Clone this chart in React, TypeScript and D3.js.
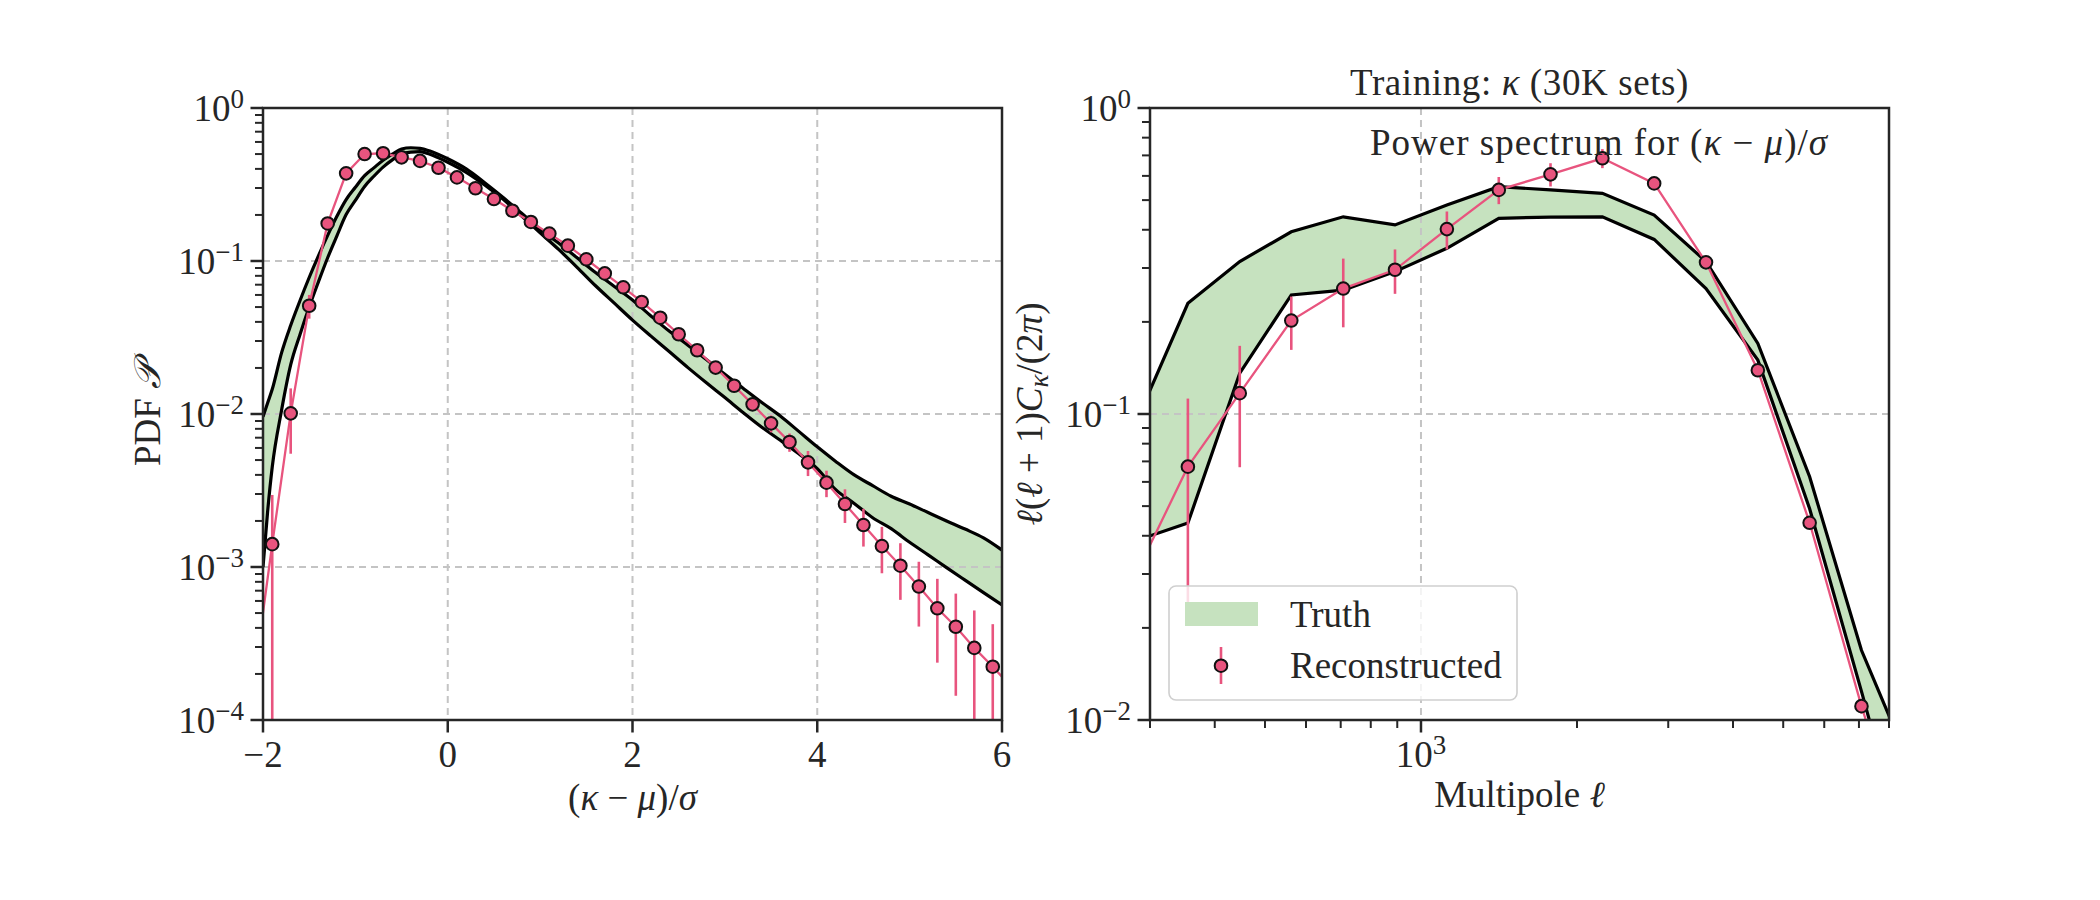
import * as d3 from "d3";

// ---- left panel: one-point PDF of (kappa - mu)/sigma ----
const pdfX = [
  -2.1, -1.9, -1.7, -1.5, -1.3, -1.1, -0.9, -0.7, -0.5, -0.3, -0.1, 0.1, 0.3,
  0.5, 0.7, 0.9, 1.1, 1.3, 1.5, 1.7, 1.9, 2.1, 2.3, 2.5, 2.7, 2.9, 3.1, 3.3,
  3.5, 3.7, 3.9, 4.1, 4.3, 4.5, 4.7, 4.9, 5.1, 5.3, 5.5, 5.7, 5.9, 6.1,
];
const pdfRecon = [
  0.00018, 0.00141, 0.0101, 0.051, 0.176, 0.374, 0.5, 0.506, 0.476, 0.451,
  0.407, 0.352, 0.299, 0.254, 0.213, 0.18, 0.151, 0.126, 0.1026, 0.083, 0.0673,
  0.054, 0.0426, 0.0332, 0.0261, 0.0201, 0.0153, 0.01156, 0.00869, 0.00656,
  0.00483, 0.00356, 0.00258, 0.00188, 0.00137, 0.00102, 0.000745, 0.000537,
  0.000407, 0.000296, 0.000223, 0.000165,
];
const pdfErr = [
  0.0002, 0.00154, 0.0046, 0.009, 0.012, 0.015, 0.012, 0.01, 0.01, 0.009, 0.008,
  0.007, 0.006, 0.006, 0.005, 0.005, 0.004, 0.004, 0.0035, 0.003, 0.0027,
  0.0023, 0.002, 0.0017, 0.0015, 0.0013, 0.0008, 0.0009, 0.0011, 0.0009,
  0.0009, 0.0007, 0.00064, 0.00052, 0.00046, 0.00041, 0.000337, 0.0003,
  0.000263, 0.000224, 0.0002, 0.00018,
];

const truthX = [
  -2.0, -1.95, -1.9, -1.8, -1.7, -1.6, -1.5, -1.4, -1.3, -1.2, -1.1, -1.0, -0.9,
  -0.8, -0.7, -0.6, -0.5, -0.4, -0.3, -0.2, -0.1, 0.0, 0.2, 0.4, 0.6, 0.8, 1.0,
  1.2, 1.4, 1.6, 1.8, 2.0, 2.2, 2.4, 2.6, 2.8, 3.0, 3.2, 3.4, 3.6, 3.8, 4.0,
  4.2, 4.4, 4.6, 4.8, 5.0, 5.2, 5.4, 5.6, 5.8, 6.0,
];
const truthHigh = [
  0.0096, 0.0118, 0.0145, 0.025, 0.038, 0.055, 0.078, 0.108, 0.147, 0.196,
  0.252, 0.303, 0.361, 0.406, 0.456, 0.499, 0.54, 0.55, 0.545, 0.525, 0.497,
  0.466, 0.4, 0.325, 0.26, 0.205, 0.161, 0.131, 0.105, 0.084, 0.0684, 0.0556,
  0.0437, 0.0347, 0.0282, 0.0227, 0.0182, 0.0147, 0.0119, 0.0097, 0.0077,
  0.0061, 0.0049, 0.004, 0.0034, 0.0029, 0.00258, 0.00227, 0.002, 0.00177,
  0.00155, 0.00129,
];
const truthLow = [
  0.001, 0.0023, 0.0045, 0.0105, 0.021, 0.033, 0.05, 0.073, 0.105, 0.146,
  0.201, 0.249, 0.307, 0.358, 0.411, 0.458, 0.5, 0.515, 0.518, 0.5, 0.472,
  0.442, 0.38, 0.314, 0.253, 0.197, 0.153, 0.119, 0.091, 0.0689, 0.0532,
  0.0411, 0.0323, 0.0255, 0.0201, 0.016, 0.0128, 0.0102, 0.0082, 0.00673,
  0.0055, 0.0044, 0.0032, 0.0026, 0.0021, 0.00178, 0.00145, 0.0012, 0.00099,
  0.00082, 0.00068, 0.000565,
];

// ---- right panel: power spectrum ----
const psL = [
  282, 355, 447, 562, 708, 891, 1122, 1413, 1778, 2239, 2818, 3548, 4467, 5623,
  7079, 8913,
];
const psRecon = [
  0.03, 0.0673, 0.117, 0.202, 0.257, 0.296, 0.402, 0.54, 0.607, 0.685, 0.567,
  0.313, 0.139, 0.0441, 0.0111, 0.0032,
];
const psErr = [
  0.02, 0.045, 0.05, 0.04, 0.065, 0.049, 0.057, 0.055, 0.053, 0.049, 0.02,
  0.012, 0.006, 0.002, 0.0006, 0.0002,
];
const psHigh = [
  0.094, 0.23, 0.315, 0.394, 0.441, 0.415, 0.482, 0.553, 0.54, 0.526, 0.447,
  0.315, 0.17, 0.0624, 0.0169, 0.0067,
];
const psLow = [
  0.0386, 0.044, 0.136, 0.245, 0.254, 0.292, 0.348, 0.436, 0.44, 0.441, 0.372,
  0.257, 0.15, 0.049, 0.0124, 0.003,
];

const leftXTicks = [-2, 0, 2, 4, 6];
const leftYDecades = [-4, -3, -2, -1, 0];
const rightYDecades = [-2, -1, 0];
const rightXMajor = [1000];
const rightXMinor = [300, 400, 500, 600, 700, 800, 900, 2000, 3000, 4000, 5000, 6000, 7000, 8000];

const FONT = "'Liberation Serif', 'DejaVu Serif', serif";
const RED = "#e8547e";
const GREEN = "#c6e2bf";
const AXIS = "#262626";
const GRID = "#c4c4c4";
const FS = 37;
const SUP = 27;

const L = { x0: 263, x1: 1002, y0: 108, y1: 720 };
const R = { x0: 1150, x1: 1889, y0: 108, y1: 720 };

function Pow10({ x, y, exp, anchor }: { x: number; y: number; exp: number; anchor: string }) {
  const s = exp < 0 ? "\u2212" + -exp : String(exp);
  return (
    <text x={x} y={y} textAnchor={anchor} fontSize={FS} fill={AXIS}>
      10
      <tspan dy={-13} fontSize={SUP}>
        {s}
      </tspan>
    </text>
  );
}

function Marker({ cx, cy }: { cx: number; cy: number }) {
  return <circle cx={cx} cy={cy} r={6.3} fill={RED} stroke="#111" strokeWidth={2} />;
}

export default function App() {
  // scales
  const lx = d3.scaleLinear().domain([-2, 6]).range([L.x0, L.x1]);
  const ly = d3.scaleLog().domain([1e-4, 1]).range([L.y1, L.y0]);
  const rx = d3.scaleLog().domain([300, 8000]).range([R.x0, R.x1]);
  const ry = d3.scaleLog().domain([1e-2, 1]).range([R.y1, R.y0]);

  const safe = (v: number, min: number) => Math.max(v, min);

  // left shapes
  const truthIdx = d3.range(truthX.length);
  const lArea = d3
    .area<number>()
    .x((i) => lx(truthX[i]))
    .y0((i) => ly(truthLow[i]))
    .y1((i) => ly(truthHigh[i]))
    .curve(d3.curveMonotoneX);
  const lHighLine = d3
    .line<number>()
    .x((i) => lx(truthX[i]))
    .y((i) => ly(truthHigh[i]))
    .curve(d3.curveMonotoneX);
  const lLowLine = d3
    .line<number>()
    .x((i) => lx(truthX[i]))
    .y((i) => ly(truthLow[i]))
    .curve(d3.curveMonotoneX);
  const pdfIdx = d3.range(pdfX.length);
  const lRecon = d3
    .line<number>()
    .x((i) => lx(pdfX[i]))
    .y((i) => ly(pdfRecon[i]));

  // right shapes
  const psIdx = d3.range(psL.length);
  const rArea = d3
    .area<number>()
    .x((i) => rx(psL[i]))
    .y0((i) => ry(psLow[i]))
    .y1((i) => ry(psHigh[i]));
  const rHighLine = d3
    .line<number>()
    .x((i) => rx(psL[i]))
    .y((i) => ry(psHigh[i]));
  const rLowLine = d3
    .line<number>()
    .x((i) => rx(psL[i]))
    .y((i) => ry(psLow[i]));
  const rRecon = d3
    .line<number>()
    .x((i) => rx(psL[i]))
    .y((i) => ry(psRecon[i]));

  const leftMinors: number[] = [];
  leftYDecades.slice(0, -1).forEach((d) =>
    d3.range(2, 10).forEach((m) => leftMinors.push(m * Math.pow(10, d)))
  );
  const rightMinors: number[] = [];
  rightYDecades.slice(0, -1).forEach((d) =>
    d3.range(2, 10).forEach((m) => rightMinors.push(m * Math.pow(10, d)))
  );

  const gridDash = "7,5";

  return (
    <svg
      width={2100}
      height={900}
      style={{ position: "absolute", left: 0, top: 0, background: "#fff" }}
      fontFamily={FONT}
    >
      <defs>
        <clipPath id="clipL">
          <rect x={L.x0} y={L.y0} width={L.x1 - L.x0} height={L.y1 - L.y0} />
        </clipPath>
        <clipPath id="clipR">
          <rect x={R.x0} y={R.y0} width={R.x1 - R.x0} height={R.y1 - R.y0} />
        </clipPath>
      </defs>

      {/* ================= LEFT PANEL ================= */}
      <g clipPath="url(#clipL)">
        <path d={lArea(truthIdx) ?? ""} fill={GREEN} />
        {leftXTicks.slice(1, -1).map((t) => (
          <line key={"lgx" + t} x1={lx(t)} x2={lx(t)} y1={L.y0} y2={L.y1} stroke={GRID} strokeWidth={2} strokeDasharray={gridDash} />
        ))}
        {leftYDecades.slice(1, -1).map((d) => (
          <line key={"lgy" + d} x1={L.x0} x2={L.x1} y1={ly(Math.pow(10, d))} y2={ly(Math.pow(10, d))} stroke={GRID} strokeWidth={2} strokeDasharray={gridDash} />
        ))}
        <path d={lHighLine(truthIdx) ?? ""} fill="none" stroke="#000" strokeWidth={3.2} />
        <path d={lLowLine(truthIdx) ?? ""} fill="none" stroke="#000" strokeWidth={3.2} />
        <path d={lRecon(pdfIdx) ?? ""} fill="none" stroke={RED} strokeWidth={2.3} />
        {pdfIdx.map((i) => (
          <line
            key={"le" + i}
            x1={lx(pdfX[i])}
            x2={lx(pdfX[i])}
            y1={ly(safe(pdfRecon[i] - pdfErr[i], 1e-7))}
            y2={ly(pdfRecon[i] + pdfErr[i])}
            stroke={RED}
            strokeWidth={2.6}
          />
        ))}
        {pdfIdx.map((i) => (
          <Marker key={"lm" + i} cx={lx(pdfX[i])} cy={ly(pdfRecon[i])} />
        ))}
      </g>
      <rect x={L.x0} y={L.y0} width={L.x1 - L.x0} height={L.y1 - L.y0} fill="none" stroke={AXIS} strokeWidth={2.5} />
      {leftXTicks.map((t) => (
        <g key={"lxt" + t}>
          <line x1={lx(t)} x2={lx(t)} y1={L.y1} y2={L.y1 + 12.5} stroke={AXIS} strokeWidth={2.5} />
          <text x={lx(t)} y={767} textAnchor="middle" fontSize={FS} fill={AXIS}>
            {t < 0 ? "\u2212" + -t : t}
          </text>
        </g>
      ))}
      {leftYDecades.map((d) => (
        <g key={"lyt" + d}>
          <line x1={L.x0 - 12.5} x2={L.x0} y1={ly(Math.pow(10, d))} y2={ly(Math.pow(10, d))} stroke={AXIS} strokeWidth={2.5} />
          <Pow10 x={244} y={ly(Math.pow(10, d)) + 13} exp={d} anchor="end" />
        </g>
      ))}
      {leftMinors.map((v, i) => (
        <line key={"lmi" + i} x1={L.x0 - 8} x2={L.x0} y1={ly(v)} y2={ly(v)} stroke={AXIS} strokeWidth={2} />
      ))}
      <text x={(L.x0 + L.x1) / 2} y={810} textAnchor="middle" fontSize={FS} fill={AXIS}>
        (<tspan fontStyle="italic">κ</tspan> − <tspan fontStyle="italic">μ</tspan>)/<tspan fontStyle="italic">σ</tspan>
      </text>
      <text transform={`translate(160, ${(L.y0 + L.y1) / 2}) rotate(-90)`} textAnchor="middle" fontSize={FS} fill={AXIS}>
        PDF <tspan fontStyle="italic">𝒫</tspan>
      </text>

      {/* ================= RIGHT PANEL ================= */}
      <g clipPath="url(#clipR)">
        <path d={rArea(psIdx) ?? ""} fill={GREEN} />
        {rightXMajor.map((t) => (
          <line key={"rgx" + t} x1={rx(t)} x2={rx(t)} y1={R.y0} y2={R.y1} stroke={GRID} strokeWidth={2} strokeDasharray={gridDash} />
        ))}
        {rightYDecades.slice(1, -1).map((d) => (
          <line key={"rgy" + d} x1={R.x0} x2={R.x1} y1={ry(Math.pow(10, d))} y2={ry(Math.pow(10, d))} stroke={GRID} strokeWidth={2} strokeDasharray={gridDash} />
        ))}
        <path d={rHighLine(psIdx) ?? ""} fill="none" stroke="#000" strokeWidth={3.2} />
        <path d={rLowLine(psIdx) ?? ""} fill="none" stroke="#000" strokeWidth={3.2} />
        <path d={rRecon(psIdx) ?? ""} fill="none" stroke={RED} strokeWidth={2.3} />
        {psIdx.map((i) => (
          <line
            key={"re" + i}
            x1={rx(psL[i])}
            x2={rx(psL[i])}
            y1={ry(safe(psRecon[i] - psErr[i], 1e-7))}
            y2={ry(psRecon[i] + psErr[i])}
            stroke={RED}
            strokeWidth={2.6}
          />
        ))}
        {psIdx.map((i) => (
          <Marker key={"rm" + i} cx={rx(psL[i])} cy={ry(psRecon[i])} />
        ))}
      </g>
      <rect x={R.x0} y={R.y0} width={R.x1 - R.x0} height={R.y1 - R.y0} fill="none" stroke={AXIS} strokeWidth={2.5} />
      {rightXMajor.map((t) => (
        <g key={"rxt" + t}>
          <line x1={rx(t)} x2={rx(t)} y1={R.y1} y2={R.y1 + 12.5} stroke={AXIS} strokeWidth={2.5} />
          <Pow10 x={rx(t)} y={767} exp={Math.round(Math.log10(t))} anchor="middle" />
        </g>
      ))}
      {rightXMinor.map((t) => (
        <line key={"rxm" + t} x1={rx(t)} x2={rx(t)} y1={R.y1} y2={R.y1 + 8} stroke={AXIS} strokeWidth={2} />
      ))}
      {rightYDecades.map((d) => (
        <g key={"ryt" + d}>
          <line x1={R.x0 - 12.5} x2={R.x0} y1={ry(Math.pow(10, d))} y2={ry(Math.pow(10, d))} stroke={AXIS} strokeWidth={2.5} />
          <Pow10 x={1131} y={ry(Math.pow(10, d)) + 13} exp={d} anchor="end" />
        </g>
      ))}
      {rightMinors.map((v, i) => (
        <line key={"rmi" + i} x1={R.x0 - 8} x2={R.x0} y1={ry(v)} y2={ry(v)} stroke={AXIS} strokeWidth={2} />
      ))}
      <text x={(R.x0 + R.x1) / 2} y={807} textAnchor="middle" fontSize={FS} fill={AXIS}>
        Multipole <tspan fontStyle="italic">ℓ</tspan>
      </text>
      <text transform={`translate(1042, ${(R.y0 + R.y1) / 2}) rotate(-90)`} textAnchor="middle" fontSize={FS} fill={AXIS}>
        <tspan fontStyle="italic">ℓ</tspan>(<tspan fontStyle="italic">ℓ</tspan> + 1)<tspan fontStyle="italic">C</tspan>
        <tspan fontStyle="italic" fontSize={SUP} dy={6}>κ</tspan>
        <tspan dy={-6}>/(2</tspan><tspan fontStyle="italic">π</tspan>)
      </text>
      <text x={(R.x0 + R.x1) / 2} y={95} textAnchor="middle" fontSize={FS} fill={AXIS} letterSpacing={0.6}>
        Training: <tspan fontStyle="italic">κ</tspan> (30K sets)
      </text>
      <text x={1828} y={155} textAnchor="end" fontSize={FS} fill={AXIS} letterSpacing={1}>
        Power spectrum for (<tspan fontStyle="italic">κ</tspan> − <tspan fontStyle="italic">μ</tspan>)/<tspan fontStyle="italic">σ</tspan>
      </text>

      {/* legend */}
      <g>
        <rect x={1169} y={586} width={348} height={114} rx={7} fill="#fff" fillOpacity={0.8} stroke="#cfcfcf" strokeWidth={1.6} />
        <rect x={1185} y={602} width={73} height={24} fill={GREEN} />
        <text x={1290} y={627} fontSize={FS} fill={AXIS}>Truth</text>
        <line x1={1221} x2={1221} y1={647} y2={684} stroke={RED} strokeWidth={2.6} />
        <Marker cx={1221} cy={665.7} />
        <text x={1290} y={678} fontSize={FS} fill={AXIS}>Reconstructed</text>
      </g>
    </svg>
  );
}
